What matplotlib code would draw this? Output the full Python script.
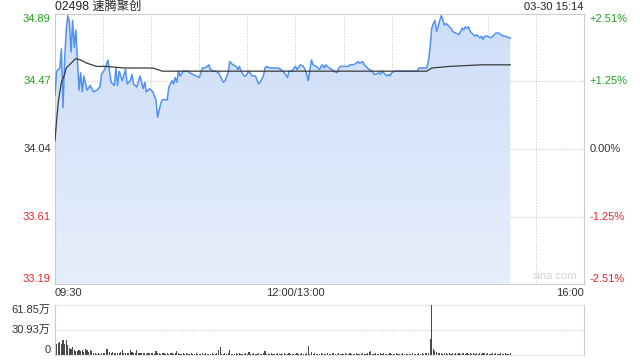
import numpy as np
import matplotlib
matplotlib.use("Agg")
from matplotlib import pyplot as plt
from matplotlib import transforms as mtrans

FONT = ['Liberation Sans', 'Noto Sans CJK SC', 'DejaVu Sans']
plt.rcParams['font.family'] = FONT

# minutes after 09:30 (lunch break removed), last print at 15:14
price_min = [0, 1, 3, 4, 5, 6, 7, 8, 9, 10, 11, 12, 13, 14, 15, 16, 17, 18, 20, 22,
             24, 26, 28, 29, 31, 33, 34, 35, 37, 38, 39, 40, 42, 44, 45, 47, 48, 49, 51, 53,
             55, 56, 57, 59, 61, 63, 64, 66, 67, 68, 70, 71, 73, 74, 75, 76, 77, 78, 80, 82,
             83, 84, 86, 88, 90, 91, 92, 93, 95, 96, 97, 99, 100, 102, 103, 105, 106, 108, 109, 111,
             113, 114, 115, 116, 118, 119, 121, 123, 125, 127, 128, 130, 131, 132, 134, 136, 137, 139, 141, 143,
             145, 146, 148, 149, 150, 151, 153, 155, 156, 157, 158, 159, 160, 161, 163, 165, 166, 167, 168, 169,
             170, 171, 173, 174, 176, 177, 178, 181, 183, 184, 186, 188, 189, 190, 192, 193, 194, 196, 198, 199,
             200, 202, 203, 204, 206, 207, 208, 209, 210, 212, 214, 221, 225, 226, 227, 232, 233, 234, 235, 236,
             237, 238, 239, 240, 241, 242, 243, 244, 245, 247, 248, 250, 252, 253, 254, 255, 256, 257, 258, 259,
             260, 262, 263, 264, 265, 266, 267, 268, 270, 272, 274, 275, 277, 278, 280, 281, 283, 284]
price = [34.38, 34.53, 34.55, 34.67, 34.30, 34.60, 34.79, 34.88, 34.84, 34.65, 34.85, 34.68, 34.79, 34.60, 34.41, 34.52, 34.40, 34.50, 34.41, 34.44,
         34.40, 34.41, 34.43, 34.51, 34.54, 34.60, 34.53, 34.46, 34.44, 34.55, 34.44, 34.53, 34.47, 34.54, 34.45, 34.47, 34.51, 34.45, 34.43, 34.50,
         34.42, 34.46, 34.40, 34.42, 34.40, 34.35, 34.24, 34.33, 34.35, 34.35, 34.35, 34.43, 34.47, 34.45, 34.49, 34.46, 34.53, 34.50, 34.53, 34.53,
         34.53, 34.52, 34.51, 34.50, 34.49, 34.52, 34.55, 34.55, 34.56, 34.57, 34.54, 34.53, 34.53, 34.52, 34.50, 34.46, 34.47, 34.52, 34.59, 34.57,
         34.56, 34.54, 34.56, 34.53, 34.50, 34.50, 34.53, 34.50, 34.50, 34.45, 34.46, 34.50, 34.55, 34.56, 34.55, 34.55, 34.55, 34.55, 34.54, 34.52,
         34.49, 34.53, 34.53, 34.55, 34.56, 34.54, 34.57, 34.56, 34.54, 34.51, 34.47, 34.54, 34.60, 34.57, 34.56, 34.54, 34.56, 34.57, 34.55, 34.57,
         34.56, 34.55, 34.54, 34.53, 34.52, 34.55, 34.56, 34.56, 34.56, 34.57, 34.57, 34.58, 34.59, 34.58, 34.59, 34.57, 34.56, 34.54, 34.53, 34.51,
         34.51, 34.52, 34.51, 34.53, 34.51, 34.50, 34.51, 34.50, 34.52, 34.53, 34.53, 34.53, 34.53, 34.53, 34.55, 34.55, 34.60, 34.68, 34.80, 34.83,
         34.85, 34.78, 34.81, 34.85, 34.88, 34.85, 34.82, 34.83, 34.82, 34.80, 34.78, 34.77, 34.76, 34.78, 34.80, 34.79, 34.81, 34.80, 34.81, 34.78,
         34.77, 34.75, 34.76, 34.75, 34.74, 34.75, 34.73, 34.75, 34.75, 34.74, 34.76, 34.77, 34.77, 34.76, 34.75, 34.75, 34.74, 34.74]

avg_min = [0, 1, 2, 3, 4, 6, 7, 10, 13, 16, 20, 26, 32, 43, 53, 61, 67, 232, 235, 246, 266, 284]
avg_price = [34.09, 34.22, 34.33, 34.40, 34.46, 34.51, 34.55, 34.58, 34.61, 34.60, 34.58, 34.56, 34.56, 34.55, 34.55, 34.55,
             34.53, 34.53, 34.55, 34.56, 34.57, 34.57]

# volume per minute, in 万 shares
volume = [14.5, 13.0, 14.5, 16.5, 13.0, 18.6, 13.0, 18.6, 12.4, 8.2,
          7.4, 10.3, 6.2, 5.0, 5.0, 6.0, 5.0, 6.0, 4.0, 7.4,
          6.0, 4.0, 6.0, 5.0, 3.0, 2.2, 1.8, 2.5, 1.6, 2.4,
          2.0, 2.8, 7.2, 7.4, 3.2, 2.6, 3.8, 2.4, 3.0, 2.2,
          2.8, 3.4, 6.0, 2.6, 2.0, 3.0, 2.4, 6.2, 4.0, 2.6,
          2.2, 6.0, 2.8, 2.4, 2.0, 3.0, 2.6, 1.8, 2.2, 2.8,
          2.0, 2.6, 1.8, 5.0, 2.4, 2.2, 1.8, 2.0, 2.6, 1.6,
          2.2, 1.8, 2.4, 2.0, 1.6, 2.2, 5.0, 2.0, 1.8, 1.4,
          2.0, 1.6, 2.2, 1.8, 1.4, 2.0, 1.6, 1.8, 2.4, 1.5,
          1.8, 1.4, 2.0, 1.6, 2.2, 1.5, 1.8, 1.4, 2.0, 1.6,
          1.8, 2.2, 6.0, 10.0, 1.8, 1.5, 2.0, 1.6, 2.2, 6.0,
          1.6, 1.8, 1.4, 2.0, 1.5, 2.2, 1.6, 1.8, 1.4, 2.0,
          1.6, 4.0, 1.8, 1.5, 2.0, 1.4, 1.8, 2.2, 1.6, 1.5,
          2.0, 5.0, 1.8, 1.5, 1.6, 2.0, 1.4, 1.8, 1.5, 2.2,
          1.6, 1.4, 1.8, 2.0, 1.5, 1.6, 2.2, 1.4, 1.8, 1.6,
          1.5, 2.0, 1.6, 1.8, 2.4, 1.5, 1.8, 2.0, 11.0, 1.8,
          4.0, 1.6, 2.0, 1.5, 1.8, 1.4, 2.2, 1.6, 1.8, 1.5,
          2.0, 1.6, 1.8, 3.0, 2.2, 1.5, 1.8, 2.4, 1.6, 1.8,
          1.5, 2.0, 1.6, 1.8, 2.2, 1.5, 1.8, 1.4, 2.0, 1.6,
          1.8, 1.5, 2.2, 1.6, 1.8, 2.0, 4.0, 5.4, 1.8, 1.6,
          2.0, 1.5, 1.8, 3.0, 1.6, 2.0, 1.4, 1.8, 1.6, 2.0,
          1.5, 1.8, 1.6, 2.0, 1.4, 1.8, 1.5, 2.0, 1.6, 1.8,
          1.4, 1.8, 1.6, 2.0, 1.5, 1.8, 1.6, 2.2, 1.8, 2.0,
          1.6, 2.4, 2.0, 3.0, 19.8, 61.85, 7.0, 5.0, 4.0, 2.2,
          2.0, 2.4, 1.8, 2.2, 2.0, 1.6, 2.4, 1.8, 2.0, 1.6,
          2.2, 1.8, 2.0, 1.6, 2.4, 3.0, 1.8, 2.0, 1.6, 2.2,
          1.8, 2.0, 1.6, 2.4, 1.8, 2.0, 1.6, 2.2, 3.0, 1.8,
          2.0, 1.6, 1.8, 2.2, 1.6, 2.0, 1.8, 1.6, 2.0, 1.8,
          1.6, 2.0, 1.8, 1.6, 2.0]

price_ticks = [34.89, 34.47, 34.04, 33.61, 33.19]
price_labels = ['34.89', '34.47', '34.04', '33.61', '33.19']
pct_labels = ['+2.51%', '+1.25%', '0.00%', '-1.25%', '-2.51%']
vol_ticks = [61.85, 30.93, 0]
vol_labels = ['61.85万', '30.93万', '0']
time_labels = ['09:30', '12:00/13:00', '16:00']

GREEN = '#1fa31f'
RED = '#e8262a'
DARK = '#333333'
GRID = '#cccccc'
tick_colors = [GREEN, GREEN, DARK, RED, RED]

fig = plt.figure(figsize=(6.4, 3.6), dpi=100)
ax = fig.add_axes([55 / 640, 76 / 360, 529 / 640, 270 / 360])
ax.set_xticks([])
ax.set_yticks([])
for s in ax.spines.values():
    s.set_color(GRID)
    s.set_linewidth(0.8)

for m in range(30, 330, 30):
    ax.axvline(m, color=GRID, lw=0.8, ls=(0, (1, 1.5)), zorder=0)
for v in price_ticks[1:-1]:
    ax.axhline(v, color=GRID, lw=0.8, ls=(0, (1, 1.5)), zorder=0)

# blue area under the price, light gradient
poly = ax.fill_between(price_min, price, price_ticks[-1], facecolor='none', edgecolor='none')
grad = np.linspace(0, 1, 256).reshape(-1, 1)
cmap = matplotlib.colors.LinearSegmentedColormap.from_list('fill', ['#cddef8', '#e6eefb'])
im = ax.imshow(grad, cmap=cmap, aspect='auto', origin='upper',
               extent=[0, price_min[-1], price_ticks[-1], price_ticks[0]], zorder=1)
im.set_clip_path(poly.get_paths()[0], transform=ax.transData)
ax.set_xlim(0, 330)
ax.set_ylim(price_ticks[-1], price_ticks[0])

ax.plot(price_min, price, color='#5291f0', lw=1.1, zorder=3)
ax.plot(avg_min, avg_price, color='#3a3a3a', lw=0.9, zorder=4)

trans = mtrans.blended_transform_factory(ax.transAxes, ax.transData)
for i, v in enumerate(price_ticks):
    va = 'top' if i == 0 else ('bottom' if i == len(price_ticks) - 1 else 'center')
    ax.text(-0.008, v, price_labels[i], transform=trans, ha='right', va=va,
            color=tick_colors[i], fontsize=8)
    ax.text(1.011, v, pct_labels[i], transform=trans, ha='left', va=va,
            color=tick_colors[i], fontsize=8)

ax.text(0, -0.033, time_labels[0], transform=ax.transAxes, ha='left', va='center', color=DARK, fontsize=8)
ax.text(150 / 330, -0.033, time_labels[1], transform=ax.transAxes, ha='center', va='center', color=DARK, fontsize=8)
ax.text(1, -0.033, time_labels[2], transform=ax.transAxes, ha='right', va='center', color=DARK, fontsize=8)

ax.text(0.988, 0.012, 'sina.com', transform=ax.transAxes, ha='right', va='bottom', color='#d4d4d4', fontsize=8)

fig.text(55 / 640, 1 - 7 / 360, '02498 速腾聚创', ha='left', va='center', color='#222222', fontsize=8.8)
fig.text(583 / 640, 1 - 7 / 360, '03-30 15:14', ha='right', va='center', color='#222222', fontsize=8)

# volume panel
vax = fig.add_axes([55 / 640, 5 / 360, 529 / 640, 50 / 360])
vax.set_xlim(0, 330)
vax.set_ylim(0, vol_ticks[0])
vax.set_xticks([])
vax.set_yticks([])
for k in ['top', 'bottom']:
    vax.spines[k].set_visible(False)
for k in ['left', 'right']:
    vax.spines[k].set_color(GRID)
    vax.spines[k].set_linewidth(0.8)
for v in vol_ticks:
    vax.axhline(v, color=GRID, lw=0.8, ls=(0, (1, 1.5)), clip_on=False, zorder=0)

vax.bar(np.arange(len(volume)), volume, width=0.7, color='#4a4a4a', linewidth=0, zorder=2)

vtrans = mtrans.blended_transform_factory(vax.transAxes, vax.transData)
vas = ['top', 'center', 'bottom']
for i, v in enumerate(vol_ticks):
    vax.text(-0.008, v, vol_labels[i], transform=vtrans, ha='right', va=vas[i],
             color=DARK, fontsize=8)

fig.savefig('out.png', dpi=100)
